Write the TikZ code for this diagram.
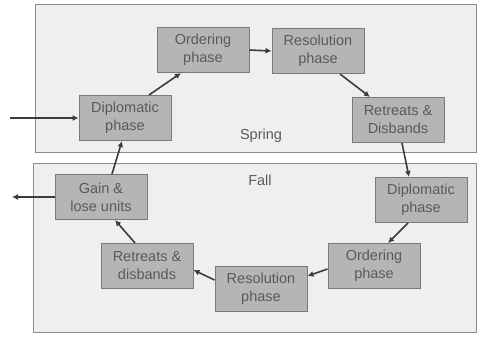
\documentclass[tikz,border=0pt]{standalone}
\usepackage{fontspec}
\setmainfont{Liberation Sans}
\usetikzlibrary{arrows.meta}
\definecolor{boxfill}{HTML}{B5B5B5}
\definecolor{boxline}{HTML}{7A7A7A}
\definecolor{panelfill}{HTML}{EFEFEF}
\definecolor{panelline}{HTML}{8C8C8C}
\definecolor{txt}{HTML}{5A5A5A}
\definecolor{arr}{HTML}{3C3C3C}
\begin{document}
\begin{tikzpicture}[x=1pt,y=-1pt,
  phasebox/.style={draw=boxline,fill=boxfill,line width=1pt,minimum width=92pt,minimum height=45pt,
    inner sep=0pt,align=center,text=txt,font=\fontsize{14.5}{18}\selectfont},
  panel/.style={draw=panelline,fill=panelfill,line width=1pt},
  conn/.style={draw=arr,line width=1.6pt,-{Latex[length=6pt,width=6pt]}},
  lbl/.style={text=txt,font=\fontsize{14.5}{18}\selectfont,inner sep=0pt}]
\useasboundingbox (0,0) rectangle (479,337);
\fill[white] (0,0) rectangle (479,337);
\draw[panel] (35,5) rectangle (476,152);
\draw[panel] (33,163) rectangle (476,332);
\node[lbl] (spring) at (261,136) {Spring};
\node[lbl] (fall) at (260,180) {Fall};
\node[phasebox] (sdip) at (125,118) {Diplomatic\\phase};
\node[phasebox] (sord) at (203,50) {Ordering\\phase};
\node[phasebox] (sres) at (318,51) {Resolution\\phase};
\node[phasebox] (sret) at (398,120) {Retreats \&\\Disbands};
\node[phasebox] (fdip) at (421,200) {Diplomatic\\phase};
\node[phasebox] (ford) at (374,266) {Ordering\\phase};
\node[phasebox] (fres) at (261,289) {Resolution\\phase};
\node[phasebox] (fret) at (147,266) {Retreats \&\\disbands};
\node[phasebox] (gain) at (101,197) {Gain \&\\lose units};
\coordinate (inp) at (10,118);
\coordinate (outp) at (12,197);
\draw[conn] (inp) -- (sdip.west);
\draw[conn] ([xshift=24pt]sdip.north) -- ([xshift=-22pt]sord.south);
\draw[conn] (sord.east) -- (sres.west);
\draw[conn] ([xshift=22pt]sres.south) -- ([xshift=-28pt]sret.north);
\draw[conn] ([xshift=4pt]sret.south) -- ([xshift=-12pt]fdip.north);
\draw[conn] ([xshift=-13pt]fdip.south) -- ([xshift=14pt]ford.north);
\draw[conn] ([yshift=-3pt]ford.west) -- ([yshift=13pt]fres.east);
\draw[conn] ([yshift=9pt]fres.west) -- ([yshift=-4pt]fret.east);
\draw[conn] ([xshift=-12pt]fret.north) -- ([xshift=14pt]gain.south);
\draw[conn] ([xshift=11pt]gain.north) -- ([xshift=-3pt]sdip.south);
\draw[conn] (gain.west) -- (outp);
\end{tikzpicture}
\end{document}
